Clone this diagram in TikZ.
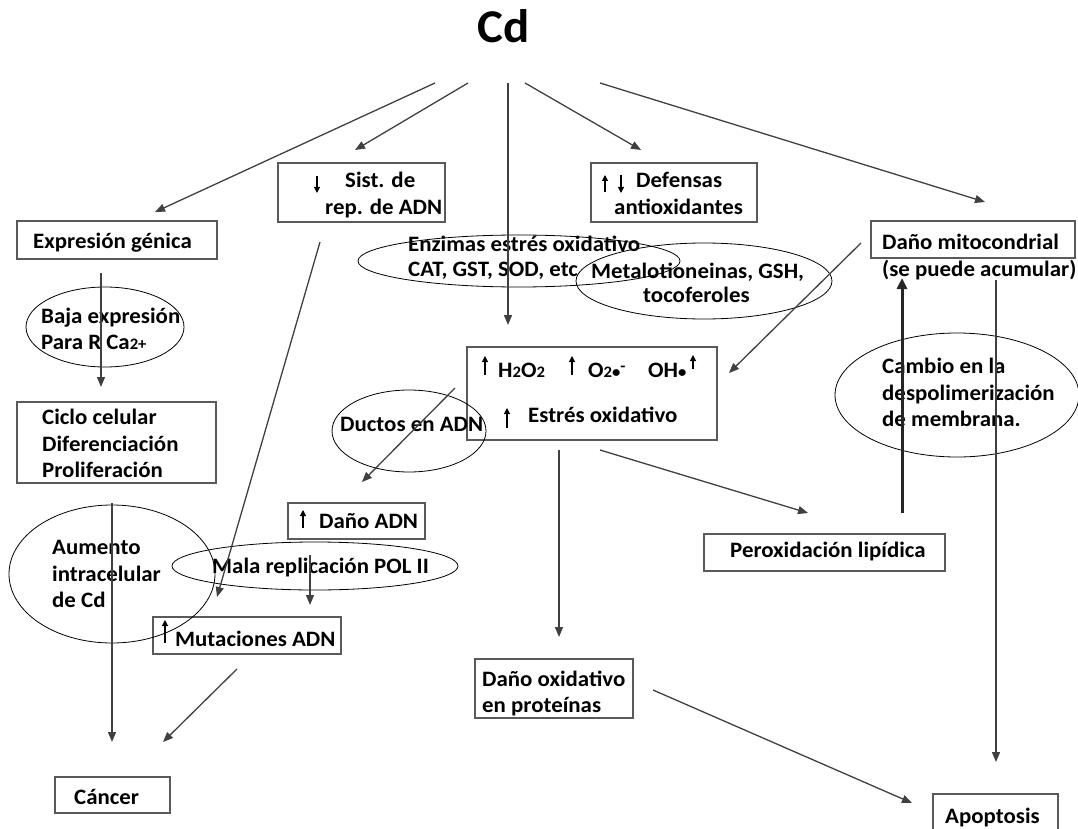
\documentclass[tikz,border=0pt]{standalone}
\usepackage{fontspec}
\setmainfont{Carlito}[FakeStretch=1.04]
\usetikzlibrary{arrows.meta,shapes.geometric}
\definecolor{lnc}{HTML}{404040}
\definecolor{bxc}{HTML}{5A5A5A}
\newcommand\sm[1]{{\fontsize{16}{16}\selectfont #1}}
\begin{document}
\begin{tikzpicture}[x=1pt,y=-1pt,
  txt/.style={font=\fontsize{22}{26}\selectfont\bfseries, inner sep=0, anchor=base west},
  boxst/.style={draw=bxc, line width=1.4pt, inner sep=0, rectangle},
  ell/.style={draw=black, line width=0.8pt, ellipse, inner sep=0},
  conn/.style={draw=lnc, line width=1.3pt, -{Triangle[length=10pt,width=8pt]}},
  bigconn/.style={draw=black!85, line width=3pt, -{Triangle[length=11pt,width=10pt]}},
  tinyarr/.style={draw=black, line width=1.1pt, -{Triangle[length=6pt,width=6pt]}},
]
\useasboundingbox (0,0) rectangle (1078,829);

% title
\node[font=\fontsize{47}{52}\selectfont\bfseries, inner sep=0, anchor=base] (cd) at (504,43) {Cd};

% boxes
\node[boxst, minimum width=200pt, minimum height=38pt] (expr) at (117,240) {};
\node[boxst, minimum width=167pt, minimum height=59pt] (sist) at (361.5,192.5) {};
\node[boxst, minimum width=166pt, minimum height=59pt] (def) at (674,192.5) {};
\node[boxst, minimum width=204pt, minimum height=37pt] (mito) at (973,239.5) {};
\node[boxst, minimum width=250pt, minimum height=93pt] (stress) at (592,393.5) {};
\node[boxst, minimum width=199pt, minimum height=81pt] (ciclo) at (116.5,442.5) {};
\node[boxst, minimum width=137pt, minimum height=36pt] (danoadn) at (356.5,521) {};
\node[boxst, minimum width=188pt, minimum height=37pt] (mut) at (247,635.5) {};
\node[boxst, minimum width=115pt, minimum height=36pt] (cancer) at (112.5,795) {};
\node[boxst, minimum width=158pt, minimum height=59pt] (prot) at (554,688.5) {};
\node[boxst, minimum width=241pt, minimum height=37pt] (perox) at (824.5,552.5) {};
\node[boxst, minimum width=125pt, minimum height=56pt] (apop) at (995.5,822) {};

% ellipses
\node[ell, minimum width=158pt, minimum height=80pt] (baja) at (105,327) {};
\node[ell, minimum width=322pt, minimum height=52pt] (enz) at (519,261) {};
\node[ell, minimum width=256pt, minimum height=76pt] (met) at (704,281) {};
\node[ell, minimum width=154pt, minimum height=82pt] (ductos) at (409,431) {};
\node[ell, minimum width=206pt, minimum height=138pt] (aumento) at (112,574) {};
\node[ell, minimum width=286pt, minimum height=48pt] (mala) at (315,566) {};
\node[ell, minimum width=244pt, minimum height=124pt] (cambio) at (957,395) {};

% texts
\node[txt] (t-expr) at (33,248) {Expresión génica};
\node[txt] (t-sist1) at (345,188) {Sist. de};
\node[txt] (t-sist2) at (325,214) {rep. de ADN};
\node[txt] (t-def1) at (636,188) {Defensas};
\node[txt] (t-def2) at (614,214) {antioxidantes};
\node[txt] (t-enz1) at (408,251) {Enzimas estrés oxidativo};
\node[txt] (t-enz2) at (408,276) {CAT, GST, SOD, etc};
\node[txt] (t-met1) at (591,278) {Metalotioneinas, GSH,};
\node[txt] (t-met2) at (643,302) {tocoferoles};
\node[txt] (t-mito1) at (882,249) {Daño mitocondrial};
\node[txt] (t-mito2) at (882,276) {(se puede acumular)};
\node[txt] (t-baja1) at (41,323) {Baja expresión};
\node[txt] (t-baja2) at (41,349) {Para R Ca\sm{2+}};
\node[txt] (t-h2o2) at (498,377) {H\sm{2}O\sm{2}};
\node[txt] (t-o2) at (588,377) {O\sm{2}\sm{•}\raisebox{6pt}{\sm{-}}};
\node[txt] (t-oh) at (648,377) {OH\sm{•}};
\node[txt] (t-estres) at (528,422) {Estrés oxidativo};
\node[txt] (t-ductos) at (340,431) {Ductos en ADN};
\node[txt] (t-ciclo1) at (42,424) {Ciclo celular};
\node[txt] (t-ciclo2) at (42,451) {Diferenciación};
\node[txt] (t-ciclo3) at (42,477) {Proliferación};
\node[txt] (t-aum1) at (52,554) {Aumento};
\node[txt] (t-aum2) at (52,581) {intracelular};
\node[txt] (t-aum3) at (52,607) {de Cd};
\node[txt] (t-danoadn) at (319,528) {Daño ADN};
\node[txt] (t-mala) at (212,573) {Mala replicación POL II};
\node[txt] (t-mut) at (175,646) {Mutaciones ADN};
\node[txt] (t-cancer) at (74,804) {Cáncer};
\node[txt] (t-prot1) at (482,686) {Daño oxidativo};
\node[txt] (t-prot2) at (482,712) {en proteínas};
\node[txt] (t-perox) at (730,557) {Peroxidación lipídica};
\node[txt] (t-camb1) at (882,373) {Cambio en la};
\node[txt] (t-camb2) at (882,400) {despolimerización};
\node[txt] (t-camb3) at (882,426) {de membrana.};
\node[txt] (t-apop) at (945,823) {Apoptosis};

% small in-text arrows
\draw[tinyarr] (317,176) -- (317,193);
\draw[tinyarr] (605,192) -- (605,175);
\draw[tinyarr] (621,175) -- (621,193);
\draw[tinyarr] (485,375) -- (485,356);
\draw[tinyarr] (572,375) -- (572,356);
\draw[tinyarr] (693,369) -- (693,355);
\draw[tinyarr] (507,428) -- (507,408);
\draw[tinyarr] (303,528) -- (303,510);
\draw[tinyarr] (165,643) -- (165,620);

% connector end points
\coordinate (cdA) at (435,83);  \coordinate (exprIn) at (155,212);
\coordinate (cdB) at (468,83);  \coordinate (sistIn) at (355,150);
\coordinate (cdC) at (508,83);  \coordinate (stressIn) at (508,325);
\coordinate (cdD) at (525,83);  \coordinate (defIn) at (641,150);
\coordinate (cdE) at (600,83);  \coordinate (mitoIn) at (985,202);
\coordinate (exprOut) at (101,273); \coordinate (cicloIn) at (101,387);
\coordinate (cicloOut) at (112,503); \coordinate (cancerInA) at (112,742);
\coordinate (sistOut) at (320,242); \coordinate (mutInA) at (217,597);
\coordinate (stressOutA) at (455,388); \coordinate (danoIn) at (362,482);
\coordinate (danoOut) at (310,555); \coordinate (mutInB) at (310,605);
\coordinate (mutOut) at (237,669); \coordinate (cancerInB) at (163,742);
\coordinate (mitoOutA) at (861,243); \coordinate (stressInB) at (729,373);
\coordinate (stressOutB) at (559,450); \coordinate (protIn) at (559,637);
\coordinate (stressOutC) at (600,450); \coordinate (peroxIn) at (808,513);
\coordinate (peroxOut) at (902,513); \coordinate (mitoInB) at (902,278);
\coordinate (mitoOutB) at (996,280); \coordinate (apopInA) at (996,762);
\coordinate (protOut) at (653,690); \coordinate (apopInB) at (912,803);

\draw[conn] (cdA) -- (exprIn);
\draw[conn] (cdB) -- (sistIn);
\draw[conn] (cdC) -- (stressIn);
\draw[conn] (cdD) -- (defIn);
\draw[conn] (cdE) -- (mitoIn);
\draw[conn] (exprOut) -- (cicloIn);
\draw[conn] (cicloOut) -- (cancerInA);
\draw[conn] (sistOut) -- (mutInA);
\draw[conn] (stressOutA) -- (danoIn);
\draw[conn] (danoOut) -- (mutInB);
\draw[conn] (mutOut) -- (cancerInB);
\draw[conn] (mitoOutA) -- (stressInB);
\draw[conn] (stressOutB) -- (protIn);
\draw[conn] (stressOutC) -- (peroxIn);
\draw[bigconn] (peroxOut) -- (mitoInB);
\draw[conn] (mitoOutB) -- (apopInA);
\draw[conn] (protOut) -- (apopInB);
\end{tikzpicture}
\end{document}
